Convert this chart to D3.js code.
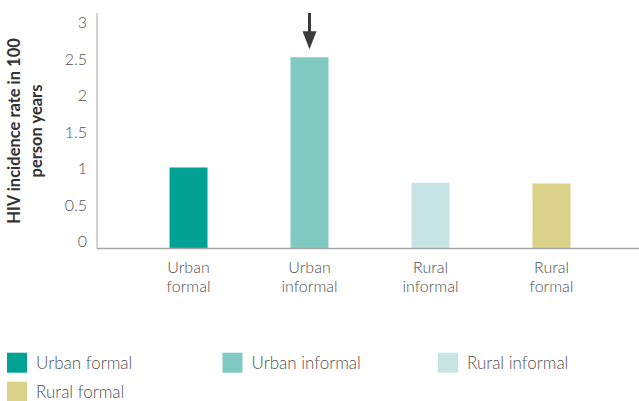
<!DOCTYPE html>
<html><head><meta charset="utf-8">
<script src="https://cdn.jsdelivr.net/npm/d3@7"></script>
<style>
body{margin:0;background:#fff;}
svg{display:block;font-family:Lato,"Open Sans",sans-serif;}
</style></head>
<body>
<svg id="chart" width="639" height="401"></svg>
<script>
const categories = ["Urban formal","Urban informal","Rural informal","Rural formal"];
const axisLabels = [["Urban","formal"],["Urban","informal"],["Rural","informal"],["Rural","formal"]];
const values = [1.11, 2.62, 0.90, 0.89];
const colors = ["#00a294","#7fc9c1","#c6e4e3","#d9d187"];
const yTicks = [0,0.5,1,1.5,2,2.5,3];
const yTitle = ["HIV incidence rate in 100","person years"];
const highlight = "Urban informal";

const svg = d3.select("#chart");
const left = 97, right = 639, base = 248.5;
const x = d3.scaleBand().domain(categories).range([left+2, right+2]).paddingInner(0.686).paddingOuter(0.583);
const y = d3.scaleLinear().domain([0,3]).range([base, base-219]);

svg.append("line").attr("x1",left).attr("x2",left).attr("y1",13).attr("y2",base).attr("stroke","#a6a6a6").attr("stroke-width",1);

svg.append("g").selectAll("text").data(yTicks).join("text")
  .attr("x",87).attr("y",d=>y(d)-7).attr("dy","0.35em")
  .attr("text-anchor","end").attr("font-size",16).attr("font-weight",300).attr("fill","#505050")
  .text(d=>d3.format("")(d));

svg.append("g").selectAll("rect").data(categories).join("rect")
  .attr("x",d=>x(d)).attr("width",x.bandwidth())
  .attr("y",(d,i)=>y(values[i])).attr("height",(d,i)=>base-y(values[i]))
  .attr("fill",(d,i)=>colors[i]);

svg.append("line").attr("x1",left).attr("x2",right).attr("y1",base).attr("y2",base).attr("stroke","#a6a6a6").attr("stroke-width",1.5);

const cl = svg.append("g").selectAll("text").data(categories).join("text")
  .attr("text-anchor","middle").attr("font-size",16).attr("font-weight",300).attr("fill","#505050");
cl.each(function(d,i){
  const t=d3.select(this);
  axisLabels[i].forEach((s,j)=>t.append("tspan").attr("x",x(d)+x.bandwidth()/2).attr("y",267+j*19).attr("dy","0.35em").text(s));
});

const yt = svg.append("text").attr("transform","translate(0,131) rotate(-90)")
  .attr("text-anchor","middle").attr("font-size",16.5).attr("font-weight","bold").attr("fill","#333");
yTitle.forEach((s,j)=>yt.append("tspan").attr("x",0).attr("y",14+j*22).attr("dy","0.35em").text(s));

const ax = x(highlight)+x.bandwidth()/2;
const ai = categories.indexOf(highlight);
const tip = y(values[ai]) - 8;
svg.append("line").attr("x1",ax).attr("x2",ax).attr("y1",13).attr("y2",tip-16).attr("stroke","#3a3a3a").attr("stroke-width",3);
svg.append("path").attr("d",`M${ax-7},${tip-18}L${ax+7},${tip-18}L${ax},${tip}Z`).attr("fill","#3a3a3a");

const lg = svg.append("g").selectAll("g").data(categories).join("g")
  .attr("transform",(d,i)=>`translate(${7+(i%3)*215.5},${352.7+Math.floor(i/3)*29})`);
lg.append("rect").attr("width",20).attr("height",20).attr("fill",(d,i)=>colors[i]);
lg.append("text").attr("x",29).attr("y",10.5).attr("dy","0.35em").attr("font-size",17).attr("font-weight",300).attr("fill","#505050").text(d=>d);
</script>
</body></html>
